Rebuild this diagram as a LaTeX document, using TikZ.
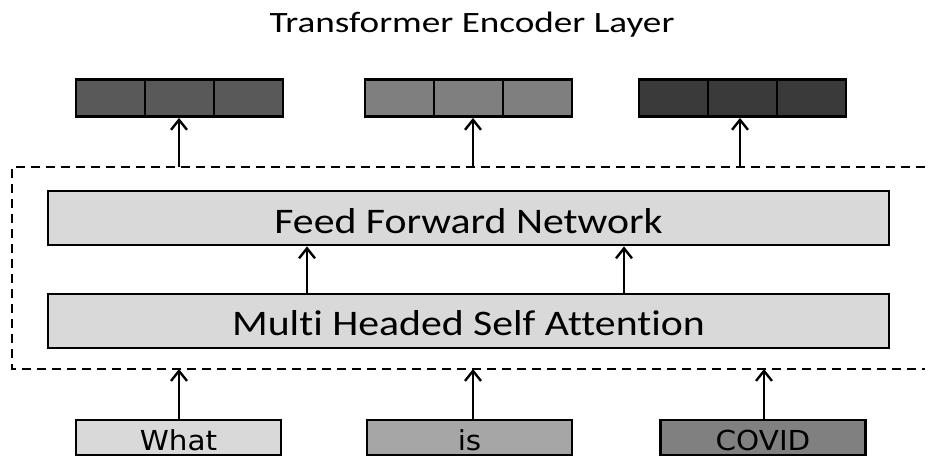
\documentclass[tikz,border=0pt]{standalone}
\usepackage{fontspec}
\usepackage{graphicx}
\setmainfont[Ligatures=NoCommon]{Carlito}
\newfontfamily\dvfont{DejaVu Sans}
\usetikzlibrary{arrows.meta}
\definecolor{cellA}{HTML}{595959}
\definecolor{cellB}{HTML}{7F7F7F}
\definecolor{cellC}{HTML}{3A3A3A}
\definecolor{lightg}{HTML}{D9D9D9}
\definecolor{midg}{HTML}{A6A6A6}
\definecolor{darkg}{HTML}{808080}
\begin{document}
\begin{tikzpicture}[x=1pt,y=-1pt,
  box/.style={draw=black,line width=2.8pt,inner sep=0pt},
  cell/.style={box,minimum width=69pt,minimum height=37pt},
  layerbox/.style={box,fill=lightg,minimum width=841pt,minimum height=54pt,text height=30pt,text depth=0pt},
  wordbox/.style={box,minimum width=205pt,minimum height=35pt,text height=25pt,text depth=0pt},
  arr/.style={line width=2.4pt,-{Straight Barb[length=10pt,width=16pt,line width=2.4pt]}},
  frame/.style={line width=2.8pt,dash pattern=on 9pt off 6pt},
  ttl/.style={font=\fontsize{29.5}{34}\selectfont},
  lyr/.style={font=\fontsize{36}{40}\selectfont},
  wrd/.style={font=\dvfont\fontsize{27.5}{32}\selectfont}]
\useasboundingbox (0,0) rectangle (930,459);
\fill[white] (0,0) rectangle (930,459);

% title
\node[ttl,anchor=base,inner sep=0pt] (title) at (472,32) {\scalebox{1.26}[1]{Transformer Encoder Layer}};

% output vectors
\node[cell,fill=cellA] (v1a) at (110.5,98) {};
\node[cell,fill=cellA] (v1b) at (179.5,98) {};
\node[cell,fill=cellA] (v1c) at (248.5,98) {};
\node[cell,fill=cellB] (v2a) at (399.5,98) {};
\node[cell,fill=cellB] (v2b) at (468.5,98) {};
\node[cell,fill=cellB] (v2c) at (537.5,98) {};
\node[cell,fill=cellC] (v3a) at (673.5,98) {};
\node[cell,fill=cellC] (v3b) at (742.5,98) {};
\node[cell,fill=cellC] (v3c) at (811.5,98) {};

% dashed encoder frame
\coordinate (fTR) at (925,167);
\coordinate (fTL) at (12,167);
\coordinate (fBL) at (12,369);
\coordinate (fBR) at (925,369);
\draw[frame] (fTR) -- (fTL) -- (fBL) -- (fBR);

% layers
\node[layerbox,lyr] (ffn) at (468.5,218) {\scalebox{1.16}[1]{Feed Forward Network}};
\node[layerbox,lyr,text height=29pt] (mhsa) at (468.5,321) {\scalebox{1.16}[1]{Multi Headed Self Attention}};

% input words
\node[wordbox,wrd,fill=lightg] (w1) at (178.5,437.5) {\scalebox{1.07}[1]{What}};
\node[wordbox,wrd,fill=midg] (w2) at (469.5,437.5) {\scalebox{1.07}[1]{is}};
\node[wordbox,wrd,fill=darkg] (w3) at (763,437.5) {\scalebox{1.07}[1]{COVID}};

% arrows out of the frame
\coordinate (o1) at (179,167);
\coordinate (o2) at (473,167);
\coordinate (o3) at (740,167);
\draw[arr] (o1) -- (o1 |- v1b.south);
\draw[arr] (o2) -- (o2 |- v2b.south);
\draw[arr] (o3) -- (o3 |- v3b.south);

% arrows between layers
\coordinate (m1) at (307,294);
\coordinate (m2) at (624,294);
\draw[arr] (m1 |- mhsa.north) -- (m1 |- ffn.south);
\draw[arr] (m2 |- mhsa.north) -- (m2 |- ffn.south);

% arrows into the frame
\coordinate (i1) at (179,369);
\coordinate (i2) at (473,369);
\coordinate (i3) at (764,369);
\draw[arr] (i1 |- w1.north) -- (i1);
\draw[arr] (i2 |- w2.north) -- (i2);
\draw[arr] (i3 |- w3.north) -- (i3);
\end{tikzpicture}
\end{document}
